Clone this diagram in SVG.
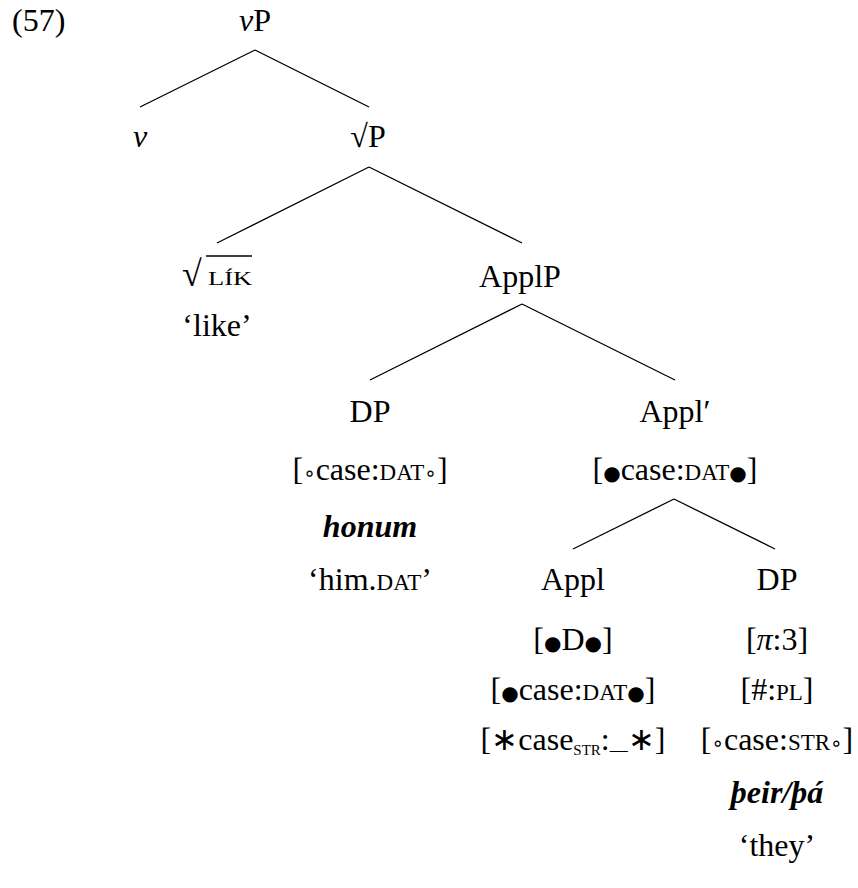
<svg xmlns="http://www.w3.org/2000/svg" width="858" height="888" viewBox="0 0 858 888">
<rect width="858" height="888" fill="#fff"/>
<g id="connectors" stroke="#000" stroke-width="1.3">
<line x1="255" y1="50" x2="140" y2="107"/>
<line x1="255" y1="50" x2="369" y2="107"/>
<line x1="369" y1="167" x2="217" y2="243"/>
<line x1="369" y1="167" x2="522" y2="243"/>
<line x1="522" y1="304" x2="370" y2="380"/>
<line x1="522" y1="304" x2="675" y2="380"/>
<line x1="674" y1="499" x2="573" y2="549"/>
<line x1="674" y1="499" x2="775" y2="549"/>
</g>
<g id="label"><text font-family="Liberation Serif" font-size="32" x="12" y="31">(57)</text></g>
<g id="vP"><text font-family="Liberation Serif" font-size="32" text-anchor="middle" x="255" y="31"><tspan font-style="italic">v</tspan>P</text></g>
<g id="v"><text font-family="Liberation Serif" font-size="32" text-anchor="middle" font-style="italic" x="140" y="147">v</text></g>
<g id="rootP"><text font-family="Liberation Serif" font-size="32" text-anchor="middle" x="368" y="147">√P</text></g>
<g id="rootLIK">
<text font-family="Liberation Serif" font-size="36" x="182" y="286">√</text>
<line x1="206" y1="256" x2="252" y2="256" stroke="#000" stroke-width="1.3"/>
<text font-family="Liberation Serif" font-size="18" x="208" y="285" textLength="44" lengthAdjust="spacingAndGlyphs">LÍK</text>
<text font-family="Liberation Serif" font-size="32" text-anchor="middle" x="217" y="336">‘like’</text>
</g>
<g id="ApplP"><text font-family="Liberation Serif" font-size="32" text-anchor="middle" x="520" y="287">ApplP</text></g>
<g id="DP1">
<text font-family="Liberation Serif" font-size="32" text-anchor="middle" x="370" y="422">DP</text>
<text font-family="Liberation Serif" font-size="32" text-anchor="middle" x="370" y="480">[<tspan font-family="DejaVu Sans" font-size="20">∘</tspan>case:<tspan font-size="23">DAT</tspan><tspan font-family="DejaVu Sans" font-size="20">∘</tspan>]</text>
<text font-family="Liberation Serif" font-size="32" text-anchor="middle" font-style="italic" font-weight="bold" x="370" y="537">honum</text>
<text font-family="Liberation Serif" font-size="32" text-anchor="middle" x="370" y="590">‘him.<tspan font-size="23">DAT</tspan>’</text>
</g>
<g id="ApplBar">
<text font-family="Liberation Serif" font-size="32" text-anchor="middle" x="675" y="422">Appl′</text>
<text font-family="Liberation Serif" font-size="32" text-anchor="middle" x="675" y="480">[<tspan font-family="DejaVu Sans" font-size="20">●</tspan>case:<tspan font-size="23">DAT</tspan><tspan font-family="DejaVu Sans" font-size="20">●</tspan>]</text>
</g>
<g id="Appl">
<text font-family="Liberation Serif" font-size="32" text-anchor="middle" x="573" y="590">Appl</text>
<text font-family="Liberation Serif" font-size="32" text-anchor="middle" x="573" y="650">[<tspan font-family="DejaVu Sans" font-size="20">●</tspan>D<tspan font-family="DejaVu Sans" font-size="20">●</tspan>]</text>
<text font-family="Liberation Serif" font-size="32" text-anchor="middle" x="573" y="700">[<tspan font-family="DejaVu Sans" font-size="20">●</tspan>case:<tspan font-size="23">DAT</tspan><tspan font-family="DejaVu Sans" font-size="20">●</tspan>]</text>
<text font-family="Liberation Serif" font-size="32" text-anchor="middle" x="573" y="750">[∗case<tspan font-size="15" dy="5">STR</tspan><tspan dy="-5">:</tspan><tspan font-size="18">__</tspan>∗]</text>
</g>
<g id="DP2">
<text font-family="Liberation Serif" font-size="32" text-anchor="middle" x="777" y="590">DP</text>
<text font-family="Liberation Serif" font-size="32" text-anchor="middle" x="777" y="650">[<tspan font-style="italic">π</tspan>:3]</text>
<text font-family="Liberation Serif" font-size="32" text-anchor="middle" x="777" y="700">[#:<tspan font-size="23">PL</tspan>]</text>
<text font-family="Liberation Serif" font-size="32" text-anchor="middle" x="777" y="750">[<tspan font-family="DejaVu Sans" font-size="20">∘</tspan>case:<tspan font-size="23">STR</tspan><tspan font-family="DejaVu Sans" font-size="20">∘</tspan>]</text>
<text font-family="Liberation Serif" font-size="32" text-anchor="middle" font-style="italic" font-weight="bold" x="777" y="803">þeir/þá</text>
<text font-family="Liberation Serif" font-size="32" text-anchor="middle" x="777" y="856">‘they’</text>
</g>
</svg>
